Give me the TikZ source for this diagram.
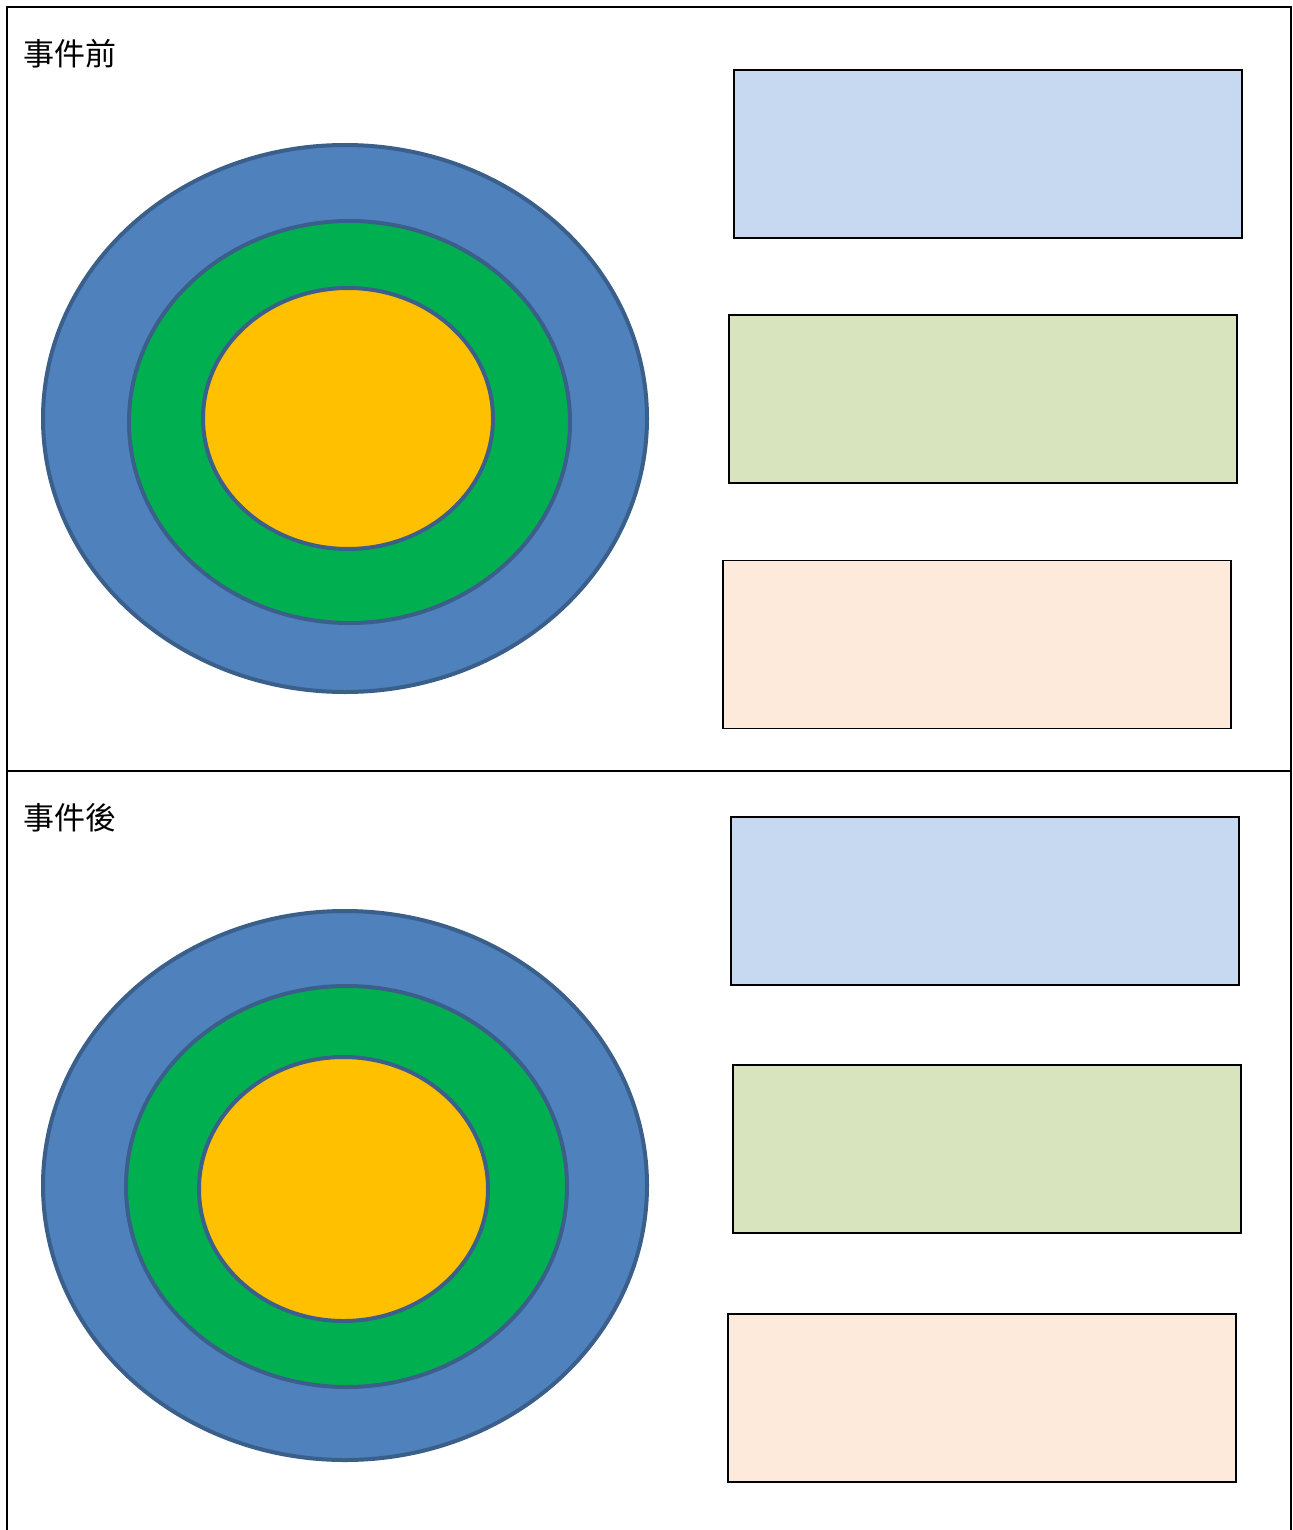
\documentclass[tikz,border=0pt]{standalone}
\usepackage{fontspec}
\newfontfamily\cjk{Noto Sans CJK TC}
\usetikzlibrary{shapes.geometric}
\definecolor{ringblue}{HTML}{4F81BD}
\definecolor{ringline}{HTML}{3A5F8B}
\definecolor{ringgreen}{HTML}{00B050}
\definecolor{ringyellow}{HTML}{FFC000}
\definecolor{boxblue}{HTML}{C6D9F1}
\definecolor{boxgreen}{HTML}{D7E4BD}
\definecolor{boxpeach}{HTML}{FDEADA}
\tikzset{
  ring/.style={ellipse, draw=ringline, line width=4pt, inner sep=0pt, outer sep=0pt},
  infobox/.style={rectangle, draw=black, line width=1.8pt, inner sep=0pt, minimum width=508pt, minimum height=168pt},
  lbl/.style={anchor=west, inner sep=0pt, font=\cjk\fontsize{31}{32}\selectfont},
  frame/.style={line width=2pt, draw=black}
}
\begin{document}
\begin{tikzpicture}[x=1pt,y=-1pt]
\useasboundingbox (0,0) rectangle (1292,1530);
\fill[white] (0,0) rectangle (1292,1530);
% table frame
\coordinate (tl) at (7,7);
\coordinate (tr) at (1291,7);
\coordinate (ml) at (7,771);
\coordinate (mr) at (1291,771);
\coordinate (bl) at (7,1530);
\coordinate (br) at (1291,1530);
\draw[frame] (bl) -- (tl) -- (tr) -- (br);
\draw[frame] (ml) -- (mr);
% labels
\node[lbl] (before) at (23,54) {事件前};
\node[lbl] (after) at (23,818) {事件後};
% top rings
\node[ring, fill=ringblue, minimum width=604pt, minimum height=547pt] (o1) at (345,418.5) {};
\node[ring, fill=ringgreen, minimum width=441pt, minimum height=402pt] (g1) at (349.5,422) {};
\node[ring, fill=ringyellow, minimum width=290pt, minimum height=261pt] (y1) at (348,418.5) {};
% bottom rings
\node[ring, fill=ringblue, minimum width=604pt, minimum height=549pt] (o2) at (345,1185.5) {};
\node[ring, fill=ringgreen, minimum width=441pt, minimum height=401pt] (g2) at (346.5,1186.5) {};
\node[ring, fill=ringyellow, minimum width=289pt, minimum height=264pt] (y2) at (343.5,1189) {};
% top boxes
\node[infobox, fill=boxblue] (b1) at (988,154) {};
\node[infobox, fill=boxgreen] (b2) at (983,399) {};
\node[infobox, fill=boxpeach] (b3) at (977,644.5) {};
% bottom boxes
\node[infobox, fill=boxblue] (b4) at (985,901) {};
\node[infobox, fill=boxgreen] (b5) at (987,1149) {};
\node[infobox, fill=boxpeach] (b6) at (982,1398) {};
\end{tikzpicture}
\end{document}
